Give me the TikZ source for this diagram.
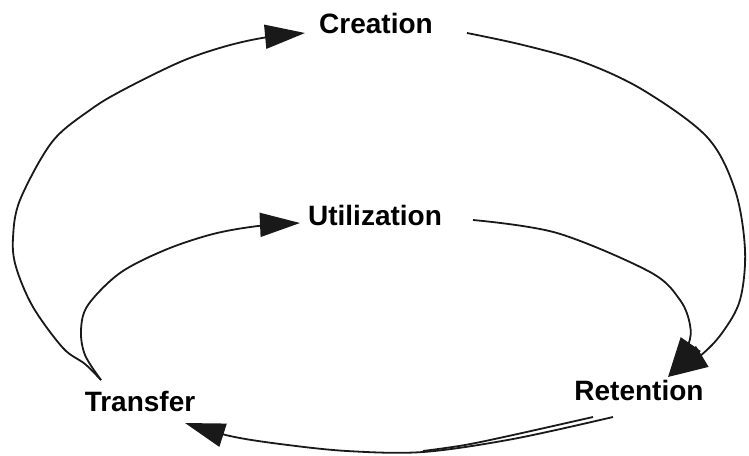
\documentclass[tikz,border=0pt]{standalone}
\usepackage{fontspec}
\setmainfont{Liberation Sans}
\usetikzlibrary{arrows.meta,calc}
\tikzset{
  lbl/.style={font=\bfseries\fontsize{28}{34}\selectfont, inner sep=0pt, anchor=base, text=black},
  conn/.style={line width=1.8pt, draw=black!90, -{Triangle[length=40pt,width=24pt]}},
  plain/.style={line width=1.8pt, draw=black!90}
}
\begin{document}
\begin{tikzpicture}[x=1pt,y=-1pt]
\useasboundingbox (0,0) rectangle (749,455);
\node[lbl] (C) at (376,33) {Creation};
\node[lbl] (U) at (375,225) {Utilization};
\node[lbl] (R) at (639,400) {Retention};
\node[lbl] (T) at (140,411) {Transfer};
% outer left: Transfer -> Creation
\draw[conn] plot[smooth, tension=0.55] coordinates {
  ($(T.base)+(-39,-31)$) (85,364) (63,348) (33,307) (16,267) (13,238) (20,200)
  (52,142) (90,110) (123,90) (180,62) (223,47) (262,38) ($(C.base)+(-71,0)$)};
% inner left: Transfer -> Utilization
\draw[conn] plot[smooth, tension=0.55] coordinates {
  ($(T.base)+(-39,-31)$) (85,355) (81,330) (88,305) (120,273) (165,250)
  (213,234) (258,226) ($(U.base)+(-75,-2)$)};
% outer right: Creation -> Retention
\draw[conn] plot[smooth, tension=0.55] coordinates {
  ($(C.base)+(91,0)$) (523,45) (583,62) (643,90) (707,137) (735,190)
  (745,250) (740,300) (722,333) (700,356) ($(R.base)+(29,-23)$)};
% inner right: Utilization -> Retention
\draw[conn] plot[smooth, tension=0.55] coordinates {
  ($(U.base)+(98,-5)$) (557,233) (650,272) (680,300) (690,325) (688,345)
  ($(R.base)+(29,-23)$)};
% bottom: Retention -> Transfer (double stroke)
\coordinate (rb2) at ($(R.base)+(-46,17)$);
\draw[plain] plot[smooth, tension=0.55] coordinates {
  (rb2) (513,435) (465,445) (423,451)};
\draw[conn] plot[smooth, tension=0.55] coordinates {
  ($(R.base)+(-26,17)$) (513,439) (423,452) (347,451) (280,444) (230,436)
  ($(T.base)+(45,12)$)};
\end{tikzpicture}
\end{document}
